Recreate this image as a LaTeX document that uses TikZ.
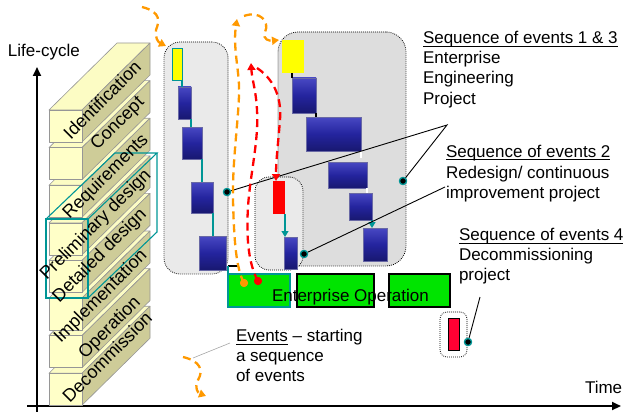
\documentclass[tikz,border=0pt]{standalone}
\usepackage{fontspec}
\setmainfont{Liberation Sans}
\usetikzlibrary{arrows.meta,calc}
\definecolor{slabfront}{RGB}{255,255,200}
\definecolor{slabtop}{RGB}{252,252,196}
\definecolor{slabside}{RGB}{206,204,152}
\definecolor{slabedge}{RGB}{150,150,150}
\definecolor{tealc}{RGB}{0,150,150}
\definecolor{orangec}{RGB}{255,153,0}
\definecolor{redc}{RGB}{255,0,0}
\definecolor{greenc}{RGB}{0,228,0}
\definecolor{yellowc}{RGB}{255,255,0}
\definecolor{boxlight}{RGB}{234,234,234}
\definecolor{boxdark}{RGB}{221,221,221}
\definecolor{bluetop}{RGB}{72,72,195}
\definecolor{bluemid}{RGB}{36,36,158}
\definecolor{bluebot}{RGB}{24,24,112}
\definecolor{blueedge}{RGB}{105,105,165}
\definecolor{decred}{RGB}{255,0,51}
\newcommand\myrect[6]{%
  \pgfmathsetmacro\myrcx{(#3+#5)/2}%
  \pgfmathsetmacro\myrcy{(#4+#6)/2}%
  \pgfmathsetmacro\myrw{#5-#3}%
  \pgfmathsetmacro\myrh{#6-#4}%
  \node[#2, minimum width=\myrw pt, minimum height=\myrh pt, inner sep=0pt, outer sep=0pt] (#1) at (\myrcx,\myrcy) {};}
\newcommand\myunder[1]{\setbox0\hbox{#1}\rlap{\rule[-3.2pt]{\wd0}{1.1pt}}\box0\relax}
\tikzset{
  lbl/.style={font=\fontsize{17}{20}\selectfont, inner sep=0pt, outer sep=0pt},
  slablbl/.style={font=\fontsize{18}{20}\selectfont, inner sep=0pt, outer sep=0pt},
  axisline/.style={line width=2.2pt, -{Triangle[length=9pt,width=8pt]}},
  slab/.style={draw=slabedge, line width=0.6pt, line join=round},
  tealframe/.style={draw=tealc, line width=1.1pt},
  bluebox/.style={draw=blueedge, line width=0.6pt, top color=bluetop, bottom color=bluebot, middle color=bluemid},
  gboxlight/.style={draw=black, fill=boxlight, line width=0.8pt, dash pattern=on 0.8pt off 1.2pt},
  gboxdark/.style={draw=black, fill=boxdark, line width=0.8pt, dash pattern=on 0.8pt off 1.2pt},
  gboxwhite/.style={draw=black, fill=white, line width=0.8pt, dash pattern=on 0.8pt off 1.2pt},
  tl/.style={draw=tealc, line width=1.4pt},
  tlarrow/.style={draw=tealc, line width=1.2pt, -{Triangle[length=6pt,width=7pt]}},
  blk/.style={draw=black, line width=1.6pt},
  wht/.style={draw=white, line width=1.6pt},
  evdot/.style={circle, fill=black, draw=tealc, line width=1.2pt, minimum size=7pt, inner sep=0pt},
  callout/.style={draw=black, line width=0.9pt},
  greenbox/.style={fill=greenc, line width=1.1pt},
  odash/.style={draw=orangec, line width=2.3pt, dash pattern=on 8pt off 5pt, -{Triangle[length=7pt,width=8pt]}},
  rdash/.style={draw=redc, line width=2.3pt, dash pattern=on 8pt off 5pt, -{Triangle[length=7pt,width=8pt]}},
  ball/.style={circle, minimum size=8pt, inner sep=0pt},
}
\begin{document}
\begin{tikzpicture}[x=1pt,y=-1pt]
\useasboundingbox (0,0) rectangle (624,412);

% axes
\coordinate (ax0) at (37,412);
\coordinate (axtop) at (37,67);
\coordinate (ah0) at (27,406);
\coordinate (ahend) at (621,406);
\draw[axisline] (ax0) -- (axtop);
\draw[axisline] (ah0) -- (ahend);
\node[lbl, anchor=base west] (life) at (8,57) {Life-cycle};
\node[lbl, anchor=base west] (time) at (585,393) {Time};

% slabs
\foreach \t in {373.2,335.6,298,260.4,222.8,185.2,147.6,110} {
  \filldraw[slab, fill=slabtop] (49,\t) -- (82,\t) -- (150,\t-67) -- (117,\t-67) -- cycle;
  \filldraw[slab, fill=slabside] (82,\t) -- (150,\t-67) -- (150,\t-35) -- (82,\t+32) -- cycle;
  \filldraw[slab, fill=slabfront] (49,\t) rectangle (82,\t+32);
}
% teal frame
\draw[tealframe] (46,219) rectangle (88,298);
\draw[tealframe] (46,219) -- (115,153) -- (157,153) -- (88,219);
\draw[tealframe] (157,153) -- (157,232) -- (88,298);

% slab labels
\foreach \cx/\cy/\txt [count=\i] in {107/357/Decommission, 110/328/Operation, 101/297/Implementation, 100/256/Detailed design, 96/225/Preliminary design, 106/177/Requirements, 118/124/Concept, 102/100/Identification} {
  \node[slablbl, rotate=45] (slab\i) at (\cx,\cy) {\txt};
}

% gray boxes
\myrect{boxA}{gboxlight, rounded corners=16pt}{164}{42}{228}{274}
\myrect{boxB}{gboxdark, rounded corners=20pt}{278}{32}{406}{266}
\myrect{boxC}{gboxlight, rounded corners=14pt}{255}{177}{303}{270}
\myrect{boxD}{gboxwhite, rounded corners=7pt}{440}{312}{467}{357}

% box A content
\myrect{yA}{fill=yellowc, draw=tealc, line width=1pt}{172}{49}{182}{81}
\myrect{bA1}{bluebox}{178}{87}{191}{119}
\myrect{bA2}{bluebox}{182}{127}{202}{159}
\myrect{bA3}{bluebox}{191}{182}{213}{213}
\myrect{bA4}{bluebox}{199}{236}{226}{270}
\draw[tl] (yA.south east) -- (yA.south east |- bA1.north);
\draw[tl] (bA1.south east) -- (bA1.south east |- bA2.north);
\draw[tl] (bA2.south east) -- (bA2.south east |- bA3.north);
\draw[tl] (bA3.south east) -- (bA3.south east |- bA4.north);

% box B content
\myrect{yB}{fill=yellowc}{282}{40}{304}{73}
\myrect{bB1}{bluebox}{292}{78}{316}{113}
\myrect{bB2}{bluebox}{306}{117}{361}{151}
\myrect{bB3}{bluebox}{328}{162}{367}{188}
\myrect{bB4}{bluebox}{349}{193}{372}{220}
\myrect{bB5}{bluebox}{363}{228}{387}{261}
\draw[blk] (bB1.north west) -- (bB1.north west |- yB.south);
\draw[blk] (bB1.south east) -- (bB1.south east |- bB2.north);
\draw[wht] (bB2.south east) -- ($(bB2.south east)+(0,7)$);
\draw[wht] (bB3.south east) -- (bB3.south east |- bB4.north);
\draw[tlarrow] (bB4.south east) -- (bB4.south east |- bB5.north);

% box C content
\myrect{rC}{fill=redc}{273}{181}{285}{214}
\myrect{bC1}{bluebox}{284}{237}{297}{269}
\draw[tlarrow] (rC.south east) -- (rC.south east |- bC1.north);

% box D content
\myrect{rD}{fill=decred, draw=black, line width=1pt}{448}{318}{459}{350}

% green operation boxes
\myrect{G1}{greenbox, draw=tealc}{228}{274}{290}{307}
\myrect{G2}{greenbox, draw=black}{297}{274}{374}{307}
\myrect{G3}{greenbox, draw=black}{389}{274}{450}{307}
\node[lbl, anchor=base west] (eop) at (272,301.5) {Enterprise Operation};
\coordinate (k1) at (228,266);
\coordinate (k2) at (239,266);
\draw[blk] (k1) -- (k2);
\draw[tl] (k1) -- (G1.north west);

% callout dots and lines
\node[evdot] (dA) at (227,192) {};
\node[evdot] (dB) at (403,181) {};
\node[evdot] (dC) at (304,254) {};
\node[evdot] (dD) at (468,342) {};
\coordinate (apex) at (447,125);
\coordinate (c2end) at (445,187);
\coordinate (c4end) at (480,297);
\draw[callout] (dA) -- (apex) -- (dB);
\draw[callout] (dC) -- (c2end);
\draw[callout] (dD) -- (c4end);
\node[evdot] at (dA) {};
\node[evdot] at (dB) {};
\node[evdot] at (dC) {};
\node[evdot] at (dD) {};

% texts
\node[lbl, anchor=base west] (s13a) at (423,44) {\myunder{Sequence of events 1 \& 3}};
\node[lbl, anchor=base west] (s13b) at (423,64) {Enterprise};
\node[lbl, anchor=base west] (s13c) at (423,84) {Engineering};
\node[lbl, anchor=base west] (s13d) at (423,104) {Project};
\node[lbl, anchor=base west] (s2a) at (446,157) {\myunder{Sequence of events 2}};
\node[lbl, anchor=base west] (s2b) at (446,178) {Redesign/ continuous};
\node[lbl, anchor=base west] (s2c) at (446,198) {improvement project};
\node[lbl, anchor=base west] (s4a) at (459,240.5) {\myunder{Sequence of events 4}};
\node[lbl, anchor=base west] (s4b) at (459,260.5) {Decommissioning};
\node[lbl, anchor=base west] (s4c) at (459,280.5) {project};
\node[lbl, anchor=base west] (ev1) at (236,341.5) {\myunder{Events} – starting};
\node[lbl, anchor=base west] (ev2) at (236,361.5) {a sequence};
\node[lbl, anchor=base west] (ev3) at (236,381.5) {of events};

% event dashed curves
\node[ball, fill=orangec] (ballO) at (244,283) {};
\node[ball, fill=redc] (ballR) at (258,281) {};
\coordinate (r1top) at (251,63);
\coordinate (r2a) at (257,68);
\coordinate (r2b) at (276,181);
\draw[rdash] (ballR.center) .. controls (249,265) and (246,240) .. (248,207)
   .. controls (250,175) and (259,140) .. (257,110)
   .. controls (256,90) and (252,80) .. (r1top);
\draw[rdash] (r2a) .. controls (272,78) and (282,95) .. (280,120)
   .. controls (278,145) and (276,160) .. (r2b);
\coordinate (o2top) at (237,19);
\coordinate (o2a) at (244,16);
\coordinate (o2b) at (279,40);
\draw[odash] (ballO.center) .. controls (236,268) and (234,240) .. (233,200)
   .. controls (232,160) and (240,110) .. (239,85)
   .. controls (238,65) and (233,45) .. (o2top);
\draw[odash] (o2a) .. controls (260,10) and (270,22) .. (265,32)
   .. controls (262,40) and (270,41) .. (o2b);
\coordinate (o1a) at (142,7);
\coordinate (o1b) at (166,46);
\draw[odash] (o1a) .. controls (162,12) and (159,22) .. (156,30)
   .. controls (155,38) and (158,42) .. (o1b);
\coordinate (o3a) at (183,357);
\coordinate (o3b) at (206,396);
\draw[odash] (o3a) .. controls (200,361) and (204,370) .. (198,380)
   .. controls (194,388) and (198,393) .. (o3b);
\node[ball, fill=orangec] at (ballO) {};
\node[ball, fill=redc] at (ballR) {};
\coordinate (lead1) at (193,358);
\coordinate (lead2) at (230,343);
\draw[draw=gray!70, line width=0.6pt] (lead1) -- (lead2);
\end{tikzpicture}
\end{document}
